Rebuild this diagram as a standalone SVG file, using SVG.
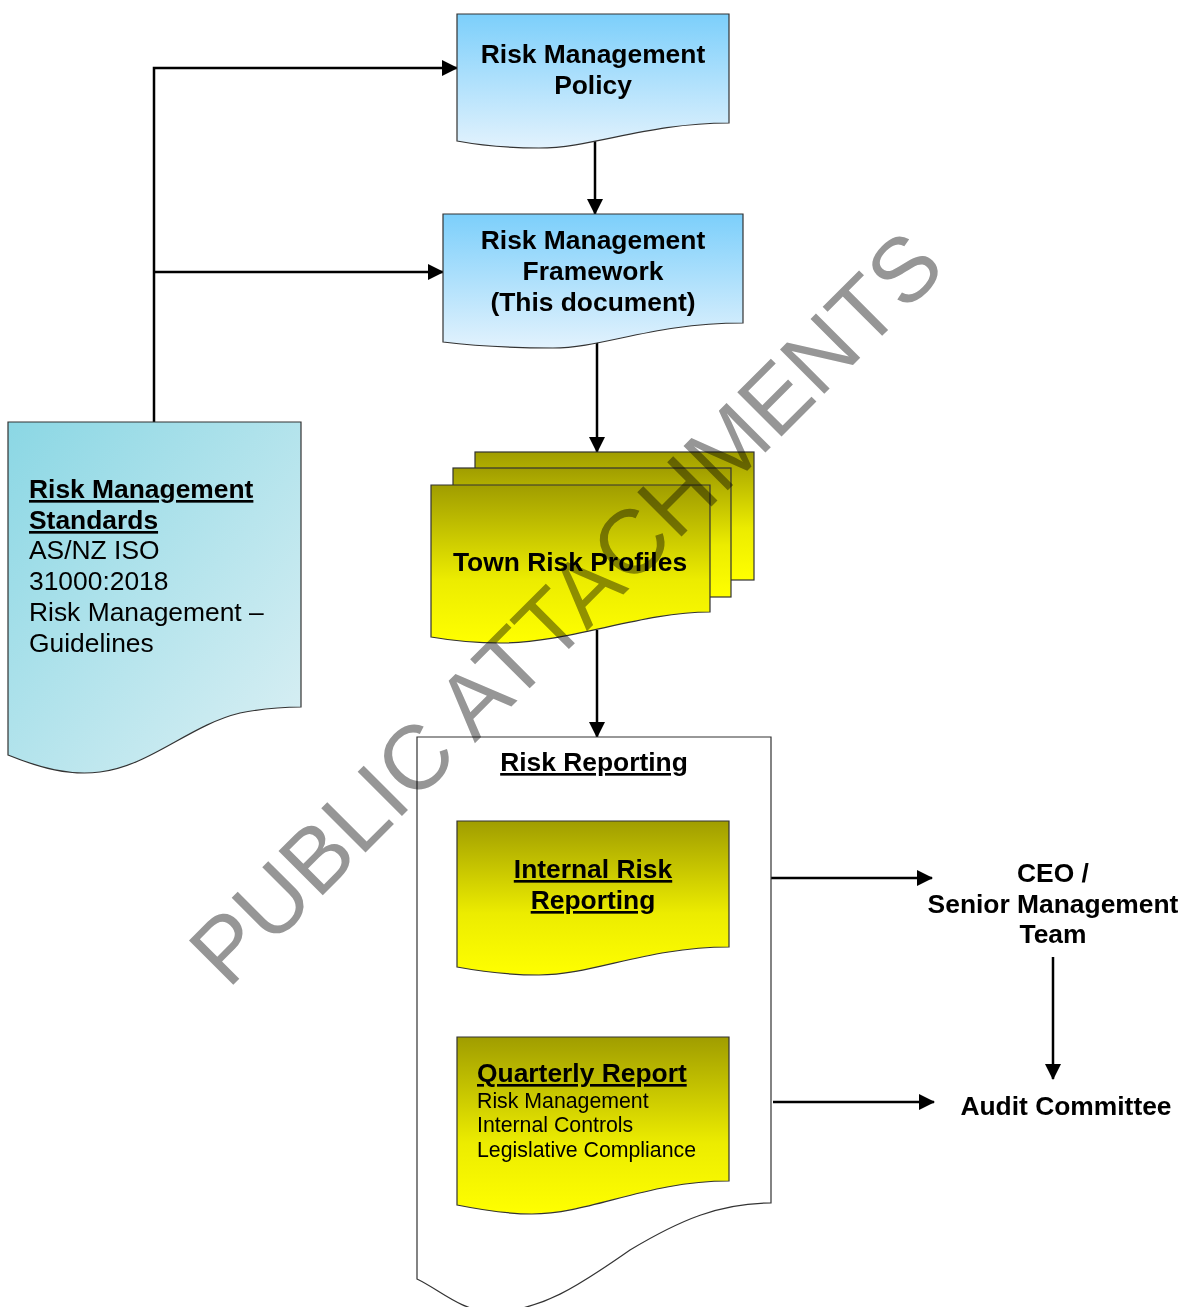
<svg xmlns="http://www.w3.org/2000/svg" width="1184" height="1307" viewBox="0 0 1184 1307">
<defs>
<linearGradient id="gBlue" x1="0" y1="0" x2="0" y2="1">
<stop offset="0" stop-color="#7ccffb"/>
<stop offset="1" stop-color="#e2f2fd"/>
</linearGradient>
<linearGradient id="gTeal" x1="0" y1="0" x2="1" y2="1">
<stop offset="0" stop-color="#8bd7e4"/>
<stop offset="1" stop-color="#dcf0f4"/>
</linearGradient>
<linearGradient id="gYel" x1="0" y1="0" x2="0" y2="1">
<stop offset="0" stop-color="#a09d00"/>
<stop offset="0.6" stop-color="#ecec00"/>
<stop offset="1" stop-color="#ffff00"/>
</linearGradient>
<marker id="ah" markerUnits="userSpaceOnUse" markerWidth="16" markerHeight="16" refX="15" refY="8" orient="auto">
<path d="M0,0 L16,8 L0,16 Z" fill="#000"/>
</marker>
<style>
.doc{stroke:#333;stroke-width:1.2}
.t{font-family:"Liberation Sans",Arial,sans-serif;fill:#000}
.b{font-weight:bold;font-size:26.4px}
.r{font-size:26.4px}
.s{font-size:21.3px}
.u{text-decoration:underline}
.c{text-anchor:middle}
.ln{fill:none;stroke:#000;stroke-width:2.5}
.wm{font-family:"Liberation Sans",Arial,sans-serif;font-size:91px;fill:#969696;mix-blend-mode:multiply}
</style>
</defs>

<g id="connectors">
<path class="ln" d="M154,422 V68 H457" marker-end="url(#ah)"/>
<path class="ln" d="M154,272 H443" marker-end="url(#ah)"/>
<path class="ln" d="M595,141 V214" marker-end="url(#ah)"/>
<path class="ln" d="M597,342 V452" marker-end="url(#ah)"/>
<path class="ln" d="M597,630 V737" marker-end="url(#ah)"/>
<path class="ln" d="M771,878 H932" marker-end="url(#ah)"/>
<path class="ln" d="M773,1102 H934" marker-end="url(#ah)"/>
<path class="ln" d="M1053,957 V1079" marker-end="url(#ah)"/>
</g>

<g id="policy">
<path class="doc" fill="url(#gBlue)" d="M457,14 H729 V123 C647,123 593,148 539,148 C511,148 484,146 457,141 Z"/>
<text class="t b c" x="593" y="63">Risk Management</text>
<text class="t b c" x="593" y="94">Policy</text>
</g>

<g id="framework">
<path class="doc" fill="url(#gBlue)" d="M443,214 H743 V323 C653,323 603,348 553,348 C520,348 475,346 443,342 Z"/>
<text class="t b c" x="593" y="249">Risk Management</text>
<text class="t b c" x="593" y="280">Framework</text>
<text class="t b c" x="593" y="311">(This document)</text>
</g>

<g id="standards">
<path class="doc" fill="url(#gTeal)" d="M8,422 H301 V707 C285,707 265,708 240,713 C190,725 150,766 100,772 C70,776 40,768 8,755 Z"/>
<text class="t b u" x="29" y="498">Risk Management</text>
<text class="t b u" x="29" y="529">Standards</text>
<text class="t r" x="29" y="559">AS/NZ ISO</text>
<text class="t r" x="29" y="590">31000:2018</text>
<text class="t r" x="29" y="621">Risk Management –</text>
<text class="t r" x="29" y="652">Guidelines</text>
</g>

<g id="profiles">
<rect class="doc" fill="url(#gYel)" x="475" y="452" width="279" height="128"/>
<rect class="doc" fill="url(#gYel)" x="453" y="468" width="278" height="129"/>
<path class="doc" fill="url(#gYel)" d="M431,485 H710 V612 C640,612 570,643 501,643 C478,643 454,641 431,637 Z"/>
<text class="t b c" x="570" y="571">Town Risk Profiles</text>
</g>

<g id="reporting">
<path class="doc" fill="#fff" d="M417,737 H771 V1203 C720,1203 680,1220 630,1250 C580,1285 540,1312 490,1312 C460,1310 440,1290 417,1279 Z"/>
<text class="t b c u" x="594" y="771">Risk Reporting</text>
</g>

<g id="internal">
<path class="doc" fill="url(#gYel)" d="M457,821 H729 V947 C647,947 593,975 539,975 C511,975 484,972 457,967 Z"/>
<text class="t b c u" x="593" y="878">Internal Risk</text>
<text class="t b c u" x="593" y="909">Reporting</text>
</g>

<g id="quarterly">
<path class="doc" fill="url(#gYel)" d="M457,1037 H729 V1181 C647,1181 590,1214 532,1214 C505,1214 482,1210 457,1205 Z"/>
<text class="t b u" x="477" y="1082">Quarterly Report</text>
<text class="t s" x="477" y="1108">Risk Management</text>
<text class="t s" x="477" y="1132">Internal Controls</text>
<text class="t s" x="477" y="1157">Legislative Compliance</text>
</g>

<g id="ceo">
<text class="t b c" x="1053" y="882">CEO /</text>
<text class="t b c" x="1053" y="913">Senior Management</text>
<text class="t b c" x="1053" y="943">Team</text>
</g>

<g id="audit">
<text class="t b c" x="1066" y="1115">Audit Committee</text>
</g>

<text class="wm" x="228" y="990" transform="rotate(-45 228 990)">PUBLIC ATTACHMENTS</text>
</svg>
